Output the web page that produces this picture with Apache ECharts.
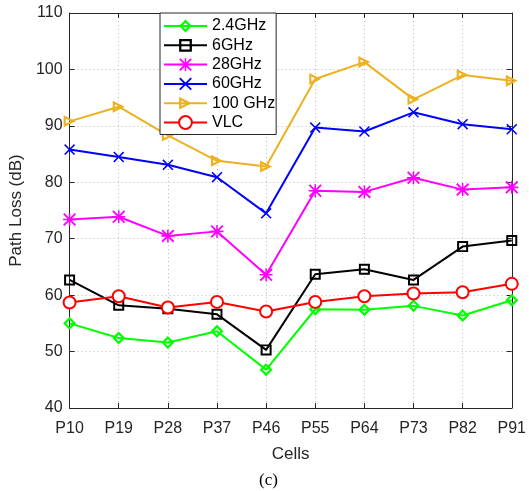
<!DOCTYPE html>
<html>
<head>
<meta charset="utf-8">
<script src="https://cdn.jsdelivr.net/npm/echarts@6/dist/echarts.min.js"></script>
<style>
  html, body { margin: 0; padding: 0; background: #fff; }
  #chart { width: 529px; height: 491px; }
</style>
</head>
<body>
<div id="chart"></div>
<script>
  // data
  var cells = ["P10", "P19", "P28", "P37", "P46", "P55", "P64", "P73", "P82", "P91"];
  var loss24 = [55.0, 52.4, 51.6, 53.6, 46.8, 57.5, 57.4, 58.1, 56.4, 59.1];
  var loss6 = [62.7, 58.2, 57.6, 56.6, 50.3, 63.7, 64.6, 62.7, 68.6, 69.7];
  var loss28 = [73.4, 73.9, 70.5, 71.3, 63.6, 78.5, 78.3, 80.8, 78.7, 79.1];
  var loss60 = [85.8, 84.5, 83.1, 80.9, 74.5, 89.7, 89.0, 92.4, 90.3, 89.4];
  var loss100 = [90.8, 93.4, 88.3, 83.8, 82.8, 98.3, 101.3, 94.7, 99.0, 98.0];
  var lossVLC = [58.7, 59.8, 57.8, 58.8, 57.1, 58.8, 59.8, 60.3, 60.5, 62.0];

  var font = "'Liberation Sans', Arial, sans-serif";
  var ink = "#262626";

  // marker shapes (hollow ones are outer ring + reversed inner ring)
  var mkDiamond = "path://M5,0 L10,5 L5,10 L0,5 Z M5,2.4 L2.4,5 L5,7.6 L7.6,5 Z";
  var mkSquare = "path://M0,0 L10,0 L10,10 L0,10 Z M1.8,1.8 L1.8,8.2 L8.2,8.2 L8.2,1.8 Z";
  var mkStar = "path://M0,1 L1,0 L5,4 L9,0 L10,1 L6,5 L10,9 L9,10 L5,6 L1,10 L0,9 L4,5 Z " +
    "M4.4,0 L5.6,0 L5.6,4.4 L10,4.4 L10,5.6 L5.6,5.6 L5.6,10 L4.4,10 L4.4,5.6 L0,5.6 L0,4.4 L4.4,4.4 Z";
  var mkCross = "path://M0,1 L1,0 L5,4 L9,0 L10,1 L6,5 L10,9 L9,10 L5,6 L1,10 L0,9 L4,5 Z";
  var mkTri = "path://M0,0 L10,5 L0,10 Z M1.8,2.9 L1.8,7.1 L6,5 Z";

  function mkSeries(name, data, color, symbol, size) {
    return {
      name: name,
      type: "line",
      data: data,
      color: color,
      symbol: symbol,
      symbolSize: size,
      showAllSymbol: true,
      lineStyle: { color: color, width: 2 },
      itemStyle: { color: color, borderWidth: 0 },
      z: 3
    };
  }

  var series = [
    mkSeries("2.4GHz", loss24, "#00ff00", mkDiamond, 13),
    mkSeries("6GHz", loss6, "#000000", mkSquare, 11),
    mkSeries("28GHz", loss28, "#ff00ff", mkStar, 13),
    mkSeries("60GHz", loss60, "#0000ff", mkCross, 11),
    mkSeries("100 GHz", loss100, "#edb120", mkTri, 12),
    mkSeries("VLC", lossVLC, "#ff0000", "emptyCircle", 12)
  ];
  series[5].itemStyle = { color: "#ff0000", borderWidth: 2 };

  var myChart = echarts.init(document.getElementById("chart"));
  var option = {
    animation: false,
    backgroundColor: "#fff",
    grid: { left: 60, right: 14, top: 13, bottom: 83 },
    legend: {
      orient: "vertical",
      left: 160,
      top: 13,
      padding: [5, 1, 4, 3],
      itemWidth: 43,
      itemHeight: 16,
      itemGap: 3.3,
      backgroundColor: "#fff",
      borderColor: ink,
      borderWidth: 1,
      textStyle: { fontFamily: font, fontSize: 16, lineHeight: 16, color: "#000" },
      data: ["2.4GHz", "6GHz", "28GHz", "60GHz", "100 GHz", "VLC"]
    },
    xAxis: [
      {
        type: "category",
        data: cells,
        boundaryGap: false,
        name: "Cells",
        nameLocation: "middle",
        nameGap: 38,
        nameTextStyle: { fontFamily: font, fontSize: 17, color: ink },
        axisLine: { lineStyle: { color: ink, width: 1 } },
        axisTick: { inside: true, length: 5, lineStyle: { color: ink } },
        axisLabel: { fontFamily: font, fontSize: 16, color: ink, margin: 13 },
        splitLine: { show: true, lineStyle: { color: "#bbbbbb", type: [1, 3], width: 1 } }
      },
      {
        type: "category",
        data: cells,
        boundaryGap: false,
        position: "top",
        axisLine: { lineStyle: { color: ink, width: 1 } },
        axisTick: { inside: true, length: 5, lineStyle: { color: ink } },
        axisLabel: { show: false },
        splitLine: { show: false }
      }
    ],
    yAxis: [
      {
        type: "value",
        min: 40,
        max: 110,
        interval: 10,
        name: "Path Loss (dB)",
        nameLocation: "middle",
        nameGap: 37,
        nameTextStyle: { fontFamily: font, fontSize: 17, color: ink },
        axisLine: { show: true, lineStyle: { color: ink, width: 1 } },
        axisTick: { show: true, inside: true, length: 5, lineStyle: { color: ink } },
        axisLabel: { fontFamily: font, fontSize: 16, color: ink, margin: 7 },
        splitLine: { show: true, lineStyle: { color: "#bbbbbb", type: [1, 3], width: 1 } }
      },
      {
        type: "value",
        min: 40,
        max: 110,
        interval: 10,
        position: "right",
        axisLine: { show: true, lineStyle: { color: ink, width: 1 } },
        axisTick: { show: true, inside: true, length: 5, lineStyle: { color: ink } },
        axisLabel: { show: false },
        splitLine: { show: false }
      }
    ],
    graphic: [
      {
        type: "text",
        left: 259,
        top: 472,
        style: { text: "(c)", fontFamily: "'Liberation Serif', 'Times New Roman', serif", fontSize: 17, fill: "#000" }
      }
    ],
    series: series
  };
  myChart.setOption(option);
</script>
</body>
</html>
